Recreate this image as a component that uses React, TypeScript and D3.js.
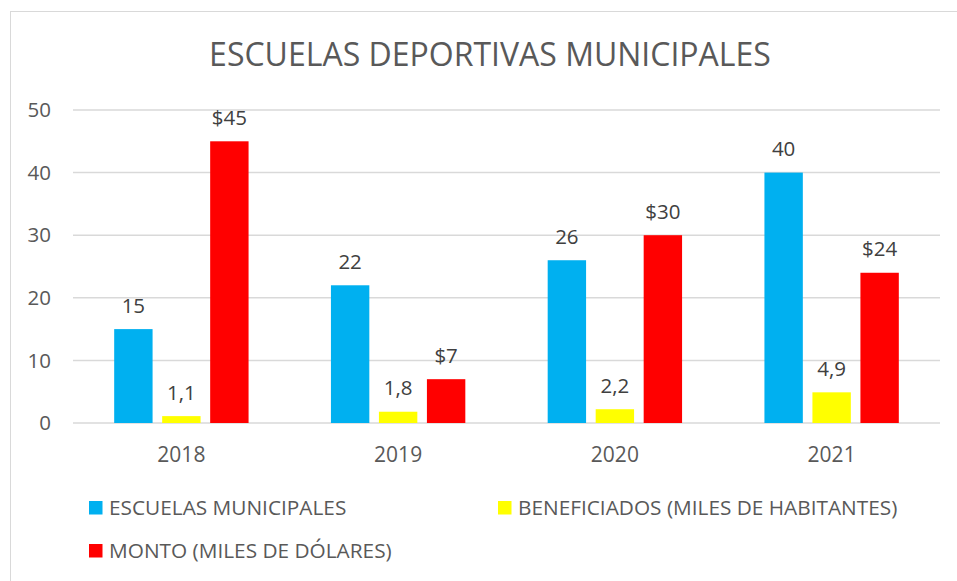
import React from 'react';
import * as d3 from 'd3';

// datos del gráfico
const years = ['2018', '2019', '2020', '2021'];
const seriesNames = ['ESCUELAS MUNICIPALES', 'BENEFICIADOS (MILES DE HABITANTES)', 'MONTO (MILES DE DÓLARES)'];
const escuelas = [15, 22, 26, 40];
const beneficiados = [1.1, 1.8, 2.2, 4.9];
const monto = [45, 7, 30, 24];
const yTicks = [0, 10, 20, 30, 40, 50];

const colors = ['#00B0F0', '#FFFF00', '#FF0000'];
const fmtLabel = [
  (v: number) => String(v),
  (v: number) => String(v).replace('.', ','),
  (v: number) => '$' + v,
];

const W = 957;
const H = 581;
const FONT = "'Open Sans', 'DejaVu Sans', sans-serif";

export default function App() {
  const plot = { left: 73, right: 940, top: 110, bottom: 423 };
  const series = [escuelas, beneficiados, monto];

  const y = d3.scaleLinear().domain([0, 50]).range([plot.bottom, plot.top]);
  const x0 = d3.scaleBand().domain(years).range([plot.left, plot.right])
    .paddingInner(0.38).paddingOuter(0.19);
  const x1 = d3.scaleBand().domain(['0', '1', '2']).range([0, x0.bandwidth()])
    .paddingInner(0.2).paddingOuter(0);

  return (
    <svg width={W} height={H} style={{ position: 'absolute', left: 0, top: 0, fontFamily: FONT }}>
      <rect x={0} y={0} width={W} height={H} fill="#fff" />
      <rect x={10.5} y={11.5} width={W + 10} height={H + 10} fill="none" stroke="#d9d9d9" />

      <text x={490} y={66} textAnchor="middle" fontSize={32} fill="#595959">
        ESCUELAS DEPORTIVAS MUNICIPALES
      </text>

      {/* rejilla y eje Y */}
      {yTicks.map(t => (
        <g key={t}>
          <line x1={plot.left} x2={plot.right} y1={y(t)} y2={y(t)} stroke="#d9d9d9" strokeWidth={1.5} />
          <text x={51} y={y(t)} dy="0.35em" textAnchor="end" fontSize={20.5} fill="#595959">{t}</text>
        </g>
      ))}

      {/* barras */}
      {years.map((yr, i) => (
        <g key={yr} transform={`translate(${x0(yr)},0)`}>
          {series.map((s, k) => (
            <g key={k}>
              <rect x={x1(String(k))} y={y(s[i])} width={x1.bandwidth()}
                height={y(0) - y(s[i])} fill={colors[k]} />
              <text x={(x1(String(k)) as number) + x1.bandwidth() / 2} y={y(s[i]) - 16.5}
                textAnchor="middle" fontSize={20.5} fill="#404040">{fmtLabel[k](s[i])}</text>
            </g>
          ))}
          <text x={x0.bandwidth() / 2} y={462} textAnchor="middle" fontSize={21} fill="#595959">{yr}</text>
        </g>
      ))}

      {/* leyenda */}
      {seriesNames.map((name, k) => {
        const lx = k === 1 ? 498 : 89;
        const ly = k === 2 ? 551 : 508;
        return (
          <g key={name} transform={`translate(${lx},${ly})`}>
            <rect x={0} y={-7} width={13.5} height={13.5} fill={colors[k]} />
            <text x={20} y={0} dy="0.35em" fontSize={20.8} fill="#595959">{name}</text>
          </g>
        );
      })}
    </svg>
  );
}
